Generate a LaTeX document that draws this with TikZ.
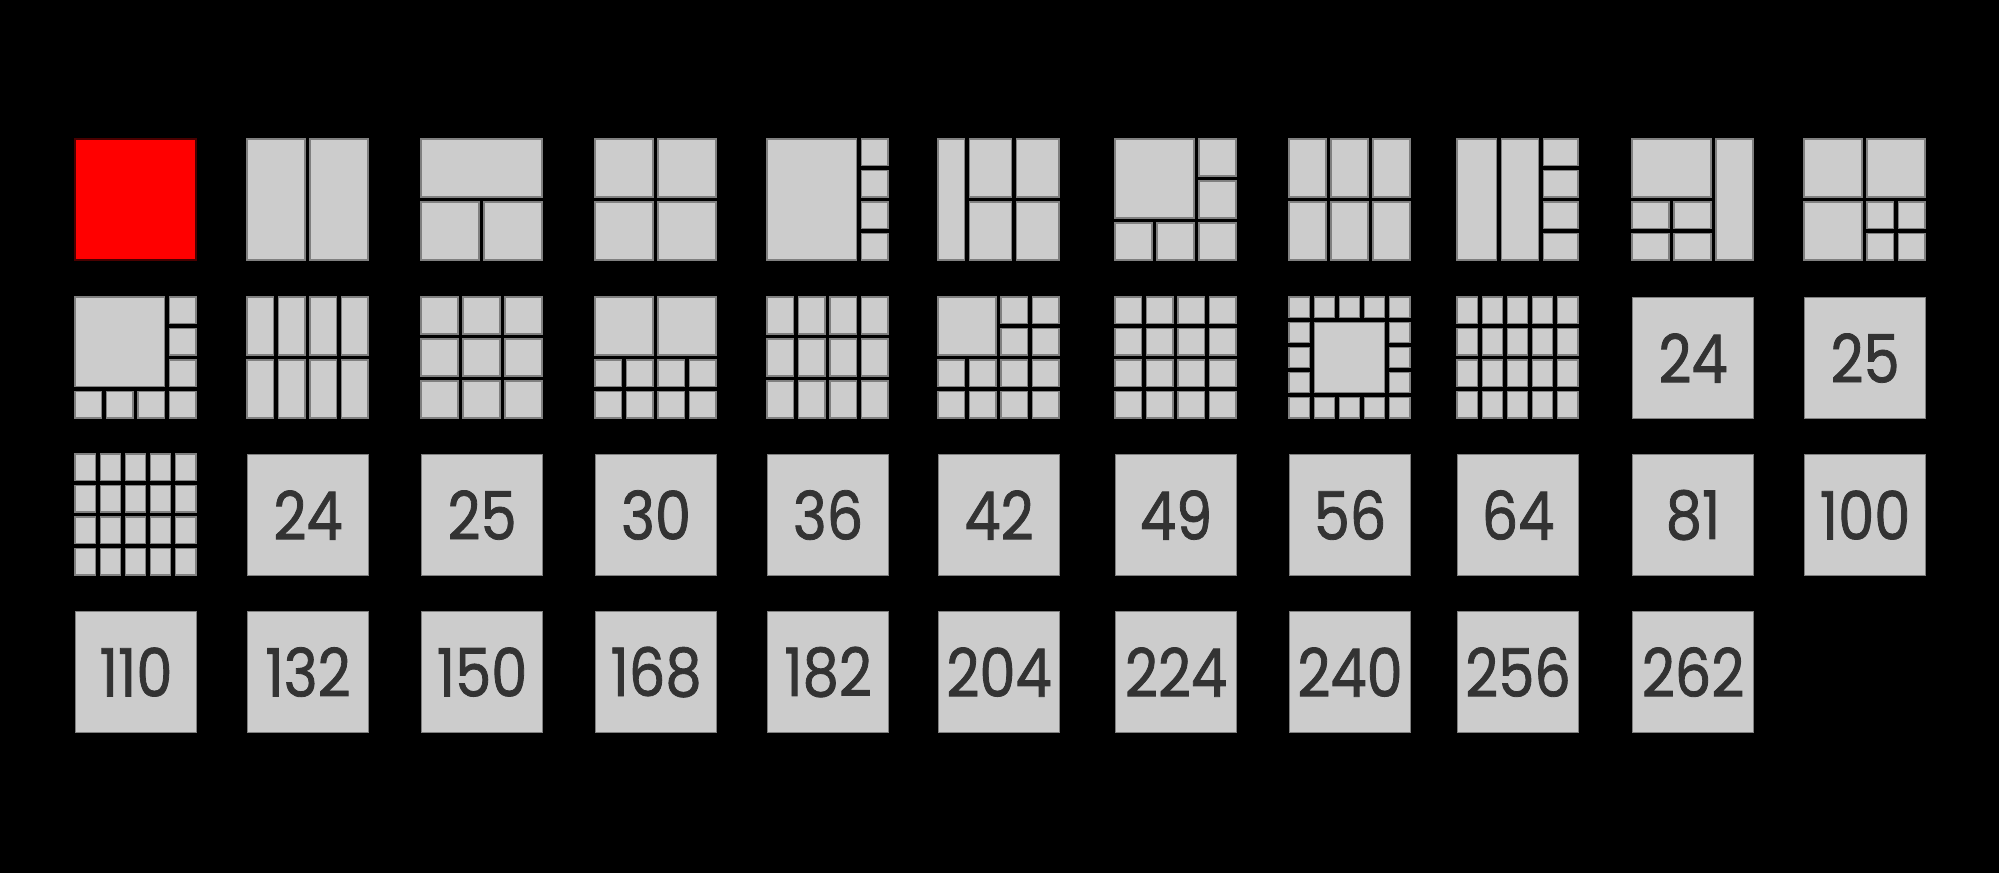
\documentclass[tikz,border=0pt]{standalone}
\usepackage{fontspec}
\setmainfont{Poppins}
\newfontfamily\numfont[FakeStretch=0.86, FakeBold=1.2]{Poppins}
\usepackage{tikz}

\definecolor{panegray}{HTML}{CCCCCC}
\definecolor{edgegray}{HTML}{808080}
\definecolor{numgray}{HTML}{333333}
\definecolor{redfill}{HTML}{FF0000}
\definecolor{rededge}{HTML}{4A0000}

\tikzset{
	pane/.style={fill=panegray, draw=edgegray, line width=0.3pt},
	redtile/.style={fill=redfill, draw=rededge, line width=0.3pt},
	numtile/.style={pane, minimum size=1.21cm, inner sep=0pt, anchor=north west,
		text=numgray, font=\numfont\fontsize{19}{19}\selectfont},
}

% one pane of a tile cut into a #1 x #2 grid, from cell (#3,#4) to cell (#5,#6)
\newcommand{\pane}[6]{%
	\pgfmathsetmacro{\pw}{(121-(#1-1)*5)/#1}%
	\pgfmathsetmacro{\ph}{(121-(#2-1)*5)/#2}%
	\draw[pane] ({(#3)*(\pw+5)},{(#4)*(\ph+5)}) rectangle ({((#5)+1)*\pw+(#5)*5},{((#6)+1)*\ph+(#6)*5});%
}
% a tile cut into a full #1 x #2 grid
\newcommand{\panegrid}[2]{%
	\foreach \i in {1,...,#1}{\foreach \j in {1,...,#2}{\pane{#1}{#2}{\i-1}{\j-1}{\i-1}{\j-1}}}%
}

\begin{document}
\begin{tikzpicture}[x=0.01cm, y=-0.01cm]
	%background
	\fill[black] (0,0) rectangle (1999,873);
	\useasboundingbox (0,0) rectangle (1999,873);

	%row 1
	\draw[redtile] (75,139) rectangle (196,260);			%single
	\begin{scope}[shift={(247,139)}]	\panegrid{2}{1}	\end{scope}
	\begin{scope}[shift={(421,139)}]					%top + 2
		\pane{2}{2}{0}{0}{1}{0}
		\pane{2}{2}{0}{1}{0}{1}
		\pane{2}{2}{1}{1}{1}{1}
	\end{scope}
	\begin{scope}[shift={(595,139)}]	\panegrid{2}{2}	\end{scope}
	\begin{scope}[shift={(767,139)}]					%big + 4 right
		\pane{4}{4}{0}{0}{2}{3}
		\foreach \r in {0,...,3} {\pane{4}{4}{3}{\r}{3}{\r}}
	\end{scope}
	\begin{scope}[shift={(938,139)}]					%strip + 2x2
		\pane{4}{2}{0}{0}{0}{1}
		\foreach \r in {0,1} {
			\pane{4}{2}{1}{\r}{1.5}{\r}
			\pane{4}{2}{2.5}{\r}{3}{\r}
		}
	\end{scope}
	\begin{scope}[shift={(1115,139)}]					%big + 5
		\pane{3}{3}{0}{0}{1}{1}
		\pane{3}{3}{2}{0}{2}{0}
		\pane{3}{3}{2}{1}{2}{1}
		\foreach \c in {0,1,2} {\pane{3}{3}{\c}{2}{\c}{2}}
	\end{scope}
	\begin{scope}[shift={(1289,139)}]	\panegrid{3}{2}	\end{scope}
	\begin{scope}[shift={(1457,139)}]					%2 strips + 4 right (narrower)
		\pane{3}{4}{0}{0}{0.05}{3}
		\pane{3}{4}{1.05}{0}{1.07}{3}
		\foreach \r in {0,...,3} {\pane{3}{4}{2.07}{\r}{2}{\r}}
	\end{scope}
	\begin{scope}[shift={(1632,139)}]					%big + 2x2 + strip
		\pane{3}{4}{0}{0}{1}{1}
		\pane{3}{4}{2}{0}{2}{3}
		\foreach \c in {0,1} {\foreach \r in {2,3} {\pane{3}{4}{\c}{\r}{\c}{\r}}}
	\end{scope}
	\begin{scope}[shift={(1804,139)}]					%3 quarters + 4
		\pane{4}{4}{0}{0}{1}{1}
		\pane{4}{4}{2}{0}{3}{1}
		\pane{4}{4}{0}{2}{1}{3}
		\foreach \c in {2,3} {\foreach \r in {2,3} {\pane{4}{4}{\c}{\r}{\c}{\r}}}
	\end{scope}

	%row 2
	\begin{scope}[shift={(75,297)}]						%big + 7
		\pane{4}{4}{0}{0}{2}{2}
		\foreach \r in {0,1,2} {\pane{4}{4}{3}{\r}{3}{\r}}
		\foreach \c in {0,...,3} {\pane{4}{4}{\c}{3}{\c}{3}}
	\end{scope}
	\begin{scope}[shift={(247,297)}]	\panegrid{4}{2}	\end{scope}
	\begin{scope}[shift={(421,297)}]	\panegrid{3}{3}	\end{scope}
	\begin{scope}[shift={(595,297)}]					%2 big + 8
		\pane{4}{4}{0}{0}{1}{1}
		\pane{4}{4}{2}{0}{3}{1}
		\foreach \c in {0,...,3} {\foreach \r in {2,3} {\pane{4}{4}{\c}{\r}{\c}{\r}}}
	\end{scope}
	\begin{scope}[shift={(767,297)}]	\panegrid{4}{3}	\end{scope}
	\begin{scope}[shift={(938,297)}]					%big + 12
		\pane{4}{4}{0}{0}{1}{1}
		\foreach \c in {2,3} {\foreach \r in {0,1} {\pane{4}{4}{\c}{\r}{\c}{\r}}}
		\foreach \c in {0,...,3} {\foreach \r in {2,3} {\pane{4}{4}{\c}{\r}{\c}{\r}}}
	\end{scope}
	\begin{scope}[shift={(1115,297)}]	\panegrid{4}{4}	\end{scope}
	\begin{scope}[shift={(1289,297)}]					%ring of 16 round big
		\pane{5}{5}{1}{1}{3}{3}
		\foreach \c in {0,...,4} {\pane{5}{5}{\c}{0}{\c}{0} \pane{5}{5}{\c}{4}{\c}{4}}
		\foreach \r in {1,2,3} {\pane{5}{5}{0}{\r}{0}{\r} \pane{5}{5}{4}{\r}{4}{\r}}
	\end{scope}
	\begin{scope}[shift={(1457,297)}]	\panegrid{5}{4}	\end{scope}

	%row 3
	\begin{scope}[shift={(75,454)}]		\panegrid{5}{4}	\end{scope}

	%numbered tiles
	\foreach \n/\x/\y/\id in {24/1632/297/a, 25/1804/297/b,
			24/247/454/c, 25/421/454/d, 30/595/454/e, 36/767/454/f, 42/938/454/g,
			49/1115/454/h, 56/1289/454/i, 64/1457/454/j, 81/1632/454/k, 100/1804/454/l,
			110/75/611/m, 132/247/611/n, 150/421/611/o, 168/595/611/p, 182/767/611/q,
			204/938/611/r, 224/1115/611/s, 240/1289/611/t, 256/1457/611/u, 262/1632/611/v}
		\node[numtile] (num-\id) at (\x,\y) {\n};
\end{tikzpicture}
\end{document}
